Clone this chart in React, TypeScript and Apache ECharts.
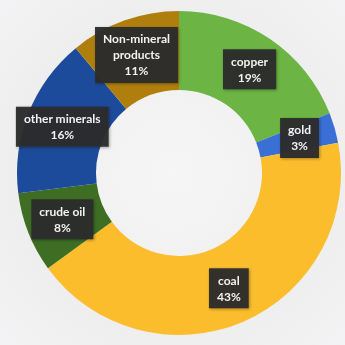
import React, { useEffect, useRef } from "react";
import * as echarts from "echarts";

const categories = ["copper", "gold", "coal", "crude oil", "other minerals", "Non-mineral\nproducts"];
const values = [19, 3, 43, 8, 16, 11];
const colors = ["#6cb444", "#3a6fd6", "#fbbd2c", "#3e6e23", "#1d4b9b", "#b07e0c"];

export default function App() {
  const ref = useRef<HTMLDivElement>(null);
  useEffect(() => {
    if (!ref.current) return;
    const chart = echarts.init(ref.current, undefined, { renderer: "svg" });
    chart.setOption({
      animation: false,
      graphic: {
        elements: [
          {
            type: "rect",
            z: -100,
            silent: true,
            shape: { x: 0, y: 0, width: 345, height: 345 },
            style: {
              fill: new echarts.graphic.RadialGradient(0.5, 0.5, 0.75, [
                { offset: 0, color: "#f6f6f6" },
                { offset: 0.6, color: "#eeeeee" },
                { offset: 1, color: "#f4f4f6" },
              ]),
            },
          },
        ],
      },
      series: [
        {
          type: "pie",
          center: [179, 173],
          radius: [83, 162],
          startAngle: 90,
          clockwise: true,
          avoidLabelOverlap: false,
          itemStyle: { borderWidth: 0 },
          data: categories.map((c, i) => ({ name: c, value: values[i], itemStyle: { color: colors[i] } })),
          label: {
            show: true,
            position: "inside",
            formatter: (p: any) => `${p.name}\n${Math.round(p.percent)}%`,
            color: "#f2f2f2",
            fontFamily: "Lato, 'Open Sans', sans-serif",
            fontWeight: "bold",
            fontSize: 12,
            lineHeight: 16,
            backgroundColor: "rgba(45,45,45,0.95)",
            padding: [4, 8],
            shadowColor: "rgba(0,0,0,0.35)",
            shadowBlur: 3,
            shadowOffsetX: 1,
            shadowOffsetY: 1,
          },
          labelLine: { show: false },
          emphasis: { disabled: true },
        },
      ],
    });
    return () => chart.dispose();
  }, []);
  return (
    <div
      ref={ref}
      style={{ position: "fixed", left: 0, top: 0, width: 345, height: 345 }}
    />
  );
}
